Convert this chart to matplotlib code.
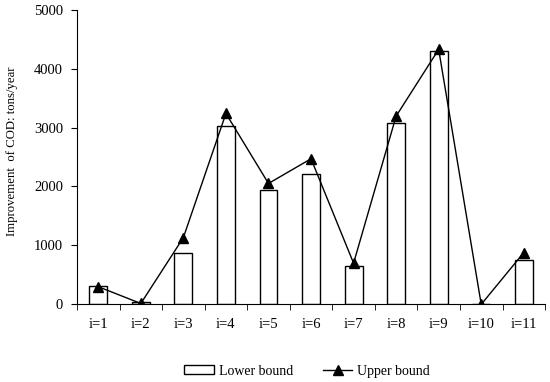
import matplotlib
matplotlib.use("Agg")
import matplotlib.pyplot as plt
import numpy as np

categories = ["i=1", "i=2", "i=3", "i=4", "i=5", "i=6", "i=7", "i=8", "i=9", "i=10", "i=11"]
lower_bound = [305, 30, 870, 3020, 1935, 2210, 645, 3085, 4305, 0, 745]
upper_bound = [295, 10, 1130, 3240, 2050, 2470, 695, 3195, 4330, -5, 875]
y_ticks = [0, 1000, 2000, 3000, 4000, 5000]

plt.rcParams['font.family'] = ['Liberation Serif', 'DejaVu Serif']

fig = plt.figure(figsize=(5.5, 3.82), dpi=100)
ax = fig.add_axes([0.14, 0.204, 0.851, 0.77])

x = np.arange(len(categories))
bars = ax.bar(x, lower_bound, width=0.42, facecolor='white', edgecolor='black', linewidth=1.0,
              label='Lower bound', zorder=2)
line, = ax.plot(x, upper_bound, color='black', linewidth=1.0, marker='^', markersize=6.5,
                label='Upper bound', zorder=3)

ax.set_xlim(-0.5, len(categories) - 0.5)
ax.set_ylim(0, 5000)
ax.set_yticks(y_ticks)
ax.set_yticklabels([str(v) for v in y_ticks], fontsize=10.5)
ax.set_xticks(x)
ax.set_xticklabels(categories, fontsize=10.5)
ax.tick_params(axis='x', length=0, pad=10)
ax.set_xticks(np.arange(-0.5, len(categories), 1.0), minor=True)
ax.tick_params(axis='x', which='minor', length=4, direction='out')
ax.tick_params(axis='y', length=4, direction='out', pad=6)

ax.spines['top'].set_visible(False)
ax.spines['right'].set_visible(False)
ax.set_ylabel('Improvement  of COD: tons/year', fontsize=9.2)
ax.yaxis.set_label_coords(-0.126, 0.519)

ax.legend(handles=[bars, line], labels=['Lower bound', 'Upper bound'],
          loc='upper center', bbox_to_anchor=(0.5 - 0.008, -0.163), ncol=2, frameon=False,
          fontsize=10, handlelength=2.1, handleheight=0.6, columnspacing=2.2, handletextpad=0.35)

fig.savefig('out.png', dpi=100)
